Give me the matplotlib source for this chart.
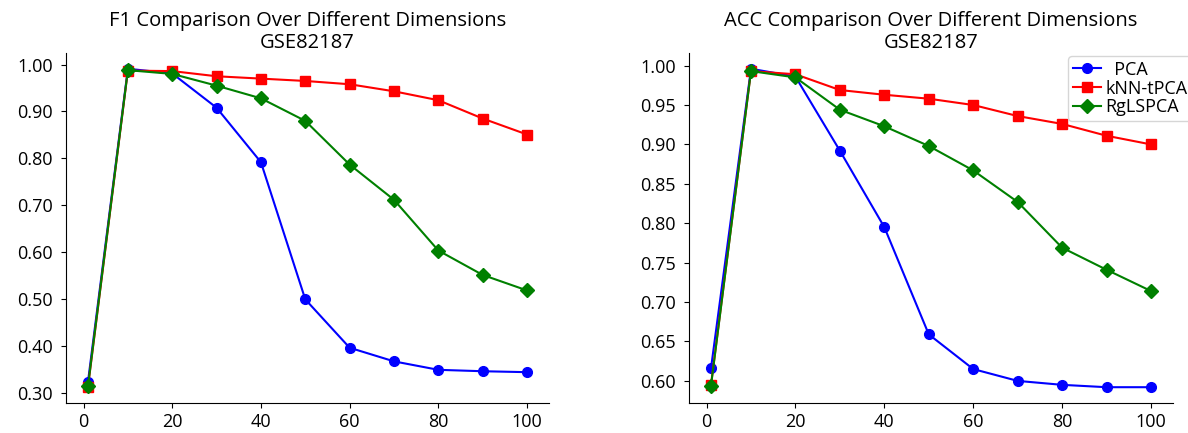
import numpy as np
import matplotlib
matplotlib.use("Agg")
import matplotlib.pyplot as plt

plt.rcParams['font.family'] = ['Open Sans', 'DejaVu Sans']

dims = [1, 10, 20, 30, 40, 50, 60, 70, 80, 90, 100]

f1_pca = [0.324, 0.991, 0.981, 0.908, 0.792, 0.500, 0.397, 0.368, 0.350, 0.347, 0.345]
f1_knn = [0.313, 0.987, 0.986, 0.975, 0.970, 0.965, 0.958, 0.943, 0.924, 0.885, 0.851]
f1_rgl = [0.315, 0.988, 0.980, 0.955, 0.928, 0.880, 0.787, 0.712, 0.604, 0.552, 0.519]

acc_pca = [0.616, 0.996, 0.986, 0.892, 0.795, 0.659, 0.615, 0.600, 0.595, 0.592, 0.592]
acc_knn = [0.595, 0.993, 0.989, 0.969, 0.963, 0.958, 0.950, 0.936, 0.926, 0.911, 0.900]
acc_rgl = [0.594, 0.993, 0.985, 0.944, 0.923, 0.898, 0.867, 0.827, 0.769, 0.741, 0.714]

labels = ["  PCA", "kNN-tPCA", "RgLSPCA"]
titles = ["F1 Comparison Over Different Dimensions\nGSE82187",
          "ACC Comparison Over Different Dimensions\nGSE82187"]


def draw(ax, pca, knn, rgl, title, legend=False):
    ax.plot(dims, pca, color="blue", marker="o", markersize=7, linewidth=1.5, label=labels[0])
    ax.plot(dims, knn, color="red", marker="s", markersize=7, linewidth=1.5, label=labels[1])
    ax.plot(dims, rgl, color="green", marker="D", markersize=7, linewidth=1.5, label=labels[2])
    ax.set_title(title, fontsize=14.5, linespacing=1.1, pad=0)
    ax.spines["top"].set_visible(False)
    ax.spines["right"].set_visible(False)
    ax.yaxis.set_major_formatter(matplotlib.ticker.FormatStrFormatter("%.2f"))
    ax.set_xticks([0, 20, 40, 60, 80, 100])
    ax.tick_params(labelsize=13)
    ax.tick_params(axis="y", pad=6)
    if legend:
        ax.legend(loc="upper right", fontsize=13, handlelength=1.57,
                  handletextpad=0.24, borderaxespad=0.0, borderpad=0.24,
                  labelspacing=0.05, bbox_to_anchor=(1.039, 0.99))


def main():
    fig = plt.figure(figsize=(11.88, 4.33), dpi=100)
    ax1 = fig.add_axes([66 / 1188, 0.069, 483 / 1188, 0.809])
    ax2 = fig.add_axes([689 / 1188, 0.069, 484 / 1188, 0.809])
    draw(ax1, f1_pca, f1_knn, f1_rgl, titles[0])
    ax1.set_yticks([0.3, 0.4, 0.5, 0.6, 0.7, 0.8, 0.9, 1.0])
    draw(ax2, acc_pca, acc_knn, acc_rgl, titles[1], legend=True)
    fig.savefig("out.png", dpi=100)


if __name__ == "__main__":
    main()
